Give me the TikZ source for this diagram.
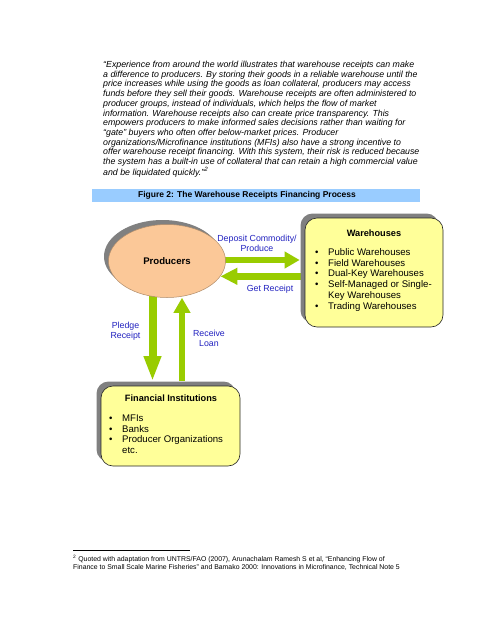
\documentclass[tikz,border=0pt]{standalone}
\usepackage{fontspec}
\setmainfont{Liberation Sans}
\usetikzlibrary{arrows.meta,shadows,shapes.geometric,calc}
\definecolor{arrowgreen}{HTML}{99CC00}
\definecolor{peach}{HTML}{FBC898}
\definecolor{boxyellow}{HTML}{FFFF99}
\definecolor{titleblue}{HTML}{99CCFF}
\definecolor{labelblue}{HTML}{2222C0}
\pgfdeclarelayer{paper}
\pgfdeclarelayer{bg}
\pgfsetlayers{paper,bg,main}
\begin{document}
\begin{tikzpicture}[x=1pt,y=-1pt,
  shadowed/.style={general shadow={shadow xshift=-4.5pt,shadow yshift=4.5pt,fill=black!50}},
  box/.style={draw=black!85,line width=0.6pt,fill=boxyellow,rounded corners=12pt,shadowed,inner sep=0},
  flow/.style={arrowgreen,line width=7pt,-{Triangle[length=#1,width=16pt]}},
  flow/.default=15pt,
  lbl/.style={labelblue,font=\fontsize{8.8}{10}\selectfont,align=center,inner sep=0},
  boxtitle/.style={font=\fontsize{9.2}{11}\selectfont\bfseries,inner sep=0},
  boxlist/.style={font=\fontsize{9.6}{10.8}\selectfont,inner sep=0,anchor=north west,align=left}]
\useasboundingbox (0,0) rectangle (495,640);
\begin{pgfonlayer}{paper}
\fill[white] (0,0) rectangle (495,640);
\end{pgfonlayer}

% quote
\node[anchor=north west,align=left,inner sep=0,font=\fontsize{8.8}{9.7}\selectfont\itshape] (quote) at (103,61)
{“Experience from around the world illustrates that warehouse receipts can make\\
a difference to producers. By storing their goods in a reliable warehouse until the\\
price increases while using the goods as loan collateral, producers may access\\
funds before they sell their goods. Warehouse receipts are often administered to\\
producer groups, instead of individuals, which helps the flow of market\\
information. Warehouse receipts also can create price transparency. This\\
empowers producers to make informed sales decisions rather than waiting for\\
“gate” buyers who often offer below-market prices. Producer\\
organizations/Microfinance institutions (MFIs) also have a strong incentive to\\
offer warehouse receipt financing. With this system, their risk is reduced because\\
the system has a built-in use of collateral that can retain a high commercial value\\
and be liquidated quickly.”\textsuperscript{2}};

% title bar
\node[fill=titleblue,minimum width=328,minimum height=13,inner sep=0] (titlebar) at (256,195) {};
\node[font=\fontsize{8.5}{10}\selectfont\bfseries,inner sep=0] (title) at (247,195) {Figure 2: The Warehouse Receipts Financing Process};

% producers
\node[ellipse,draw=peach!70!black,line width=0.5pt,fill=peach,minimum width=117,minimum height=73,inner sep=0,shadowed,
  font=\fontsize{9.6}{11}\selectfont\bfseries] (prod) at (167,261) {Producers};

% warehouses
\node[box,minimum width=138,minimum height=109] (wh) at (374,272.5) {};
\node[boxtitle] (whtitle) at (374,233) {Warehouses};
\node[boxlist] (whlist) at (315,247.5) {%
\begin{tabular}{@{}p{13pt}@{}l@{}}
\textbullet & Public Warehouses\\
\textbullet & Field Warehouses\\
\textbullet & Dual-Key Warehouses\\
\textbullet & Self-Managed or Single-\\
 & Key Warehouses\\
\textbullet & Trading Warehouses
\end{tabular}};

% financial institutions
\node[box,minimum width=139,minimum height=80] (fin) at (170.5,426) {};
\node[boxtitle] (fintitle) at (171,398) {Financial Institutions};
\node[boxlist] (finlist) at (109,413.5) {%
\begin{tabular}{@{}p{13pt}@{}l@{}}
\textbullet & MFIs\\
\textbullet & Banks\\
\textbullet & Producer Organizations\\
 & etc.
\end{tabular}};

% arrows
\begin{pgfonlayer}{bg}
\draw[flow=15pt,line width=6.5pt] ($(prod.east)+(-2,-1)$) -- ([xshift=-5]wh.west |- 0,260);
\draw[flow=17pt,line width=6.5pt] ([xshift=-3]wh.west |- prod.-16) -- (prod.-16);
\draw[flow=25pt,line width=8pt] ($(prod.south)+(-14.5,-3)$) -- ($(fin.north)+(-18,-4.5)$);
\draw[flow=15pt,line width=6pt] ($(fin.north)+(11.5,-4.5)$) -- ($(prod.south)+(15,0)$);
\end{pgfonlayer}

% labels
\node[lbl] (ldep) at (257,243) {Deposit Commodity/\\Produce};
\node[lbl] (lget) at (270,289) {Get Receipt};
\node[lbl] (lpl) at (125.5,331) {Pledge\\Receipt};
\node[lbl] (lrec) at (209,338) {Receive\\Loan};

% footnote
\coordinate (fr1) at (73,550);
\coordinate (fr2) at (190,550);
\draw[line width=0.5pt] (fr1) -- (fr2);
\node[anchor=north west,align=left,inner sep=0,font=\fontsize{6.9}{8}\selectfont] (foot) at (73,555)
{\textsuperscript{2} Quoted with adaptation from UNTRS/FAO (2007), Arunachalam Ramesh S et al, “Enhancing Flow of\\
Finance to Small Scale Marine Fisheries” and Bamako 2000: Innovations in Microfinance, Technical Note 5};
\end{tikzpicture}
\end{document}
